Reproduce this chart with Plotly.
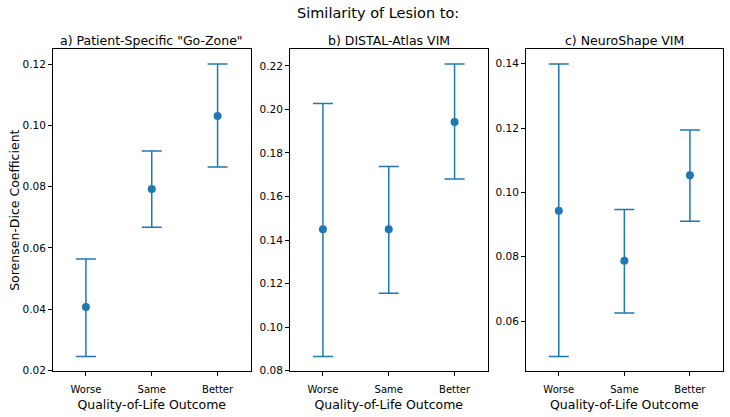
import plotly.graph_objects as go

categories = ["Worse", "Same", "Better"]
panel_titles = ['a) Patient-Specific "Go-Zone"', "b) DISTAL-Atlas VIM", "c) NeuroShape VIM"]

means_a = [0.0407, 0.0792, 0.1030]
lower_a = [0.0246, 0.0667, 0.0864]
upper_a = [0.0564, 0.0916, 0.1200]

means_b = [0.1449, 0.1449, 0.1942]
lower_b = [0.0865, 0.1155, 0.1680]
upper_b = [0.2028, 0.1738, 0.2209]

means_c = [0.0943, 0.0787, 0.1053]
lower_c = [0.0490, 0.0625, 0.0910]
upper_c = [0.1399, 0.0947, 0.1194]

C0 = "#1f77b4"
FONT = "DejaVu Sans"
W, H = 730, 417

panels = [
    (means_a, lower_a, upper_a),
    (means_b, lower_b, upper_b),
    (means_c, lower_c, upper_c),
]
x_domains = [[53 / W, 250.5 / W], [290 / W, 487.5 / W], [526 / W, 722.7 / W]]
y_domain = [1 - 375.5 / H, 1 - 50 / H]

fig = go.Figure()
layout = {}
for i, (m, lo, hi) in enumerate(panels):
    n = "" if i == 0 else str(i + 1)
    fig.add_trace(go.Scatter(
        x=categories, y=m,
        mode="markers",
        marker=dict(color=C0, size=8),
        error_y=dict(
            type="data", symmetric=False,
            array=[h - v for h, v in zip(hi, m)],
            arrayminus=[v - l for v, l in zip(m, lo)],
            color=C0, thickness=1.5, width=10,
        ),
        xaxis="x" + n, yaxis="y" + n,
        showlegend=False,
    ))
    span = max(hi) - min(lo)
    layout["xaxis" + n] = dict(
        domain=x_domains[i], anchor="y" + n,
        range=[-0.5, 2.5], type="category",
        showline=True, mirror=True, linecolor="black", linewidth=1,
        ticks="outside", ticklen=4, tickcolor="black", ticklabelstandoff=5,
        showgrid=False, zeroline=False,
        tickfont=dict(size=10, color="black", family=FONT),
        title=dict(text="Quality-of-Life Outcome", font=dict(size=12.5, color="black", family=FONT), standoff=6),
    )
    layout["yaxis" + n] = dict(
        domain=y_domain, anchor="x" + n,
        range=[min(lo) - 0.05 * span, max(hi) + 0.05 * span],
        dtick=0.02, tickformat=".2f",
        showline=True, mirror=True, linecolor="black", linewidth=1,
        ticks="outside", ticklen=4, tickcolor="black",
        showgrid=False, zeroline=False,
        tickfont=dict(size=10.5, color="black", family=FONT),
    )
    fig.add_annotation(
        text=panel_titles[i], xref="paper", yref="paper",
        x=sum(x_domains[i]) / 2, y=1 - 40.5 / H,
        xanchor="center", yanchor="middle", showarrow=False,
        font=dict(size=12.5, color="black", family=FONT),
    )

layout["yaxis"]["title"] = dict(text="Sorensen-Dice Coefficient", font=dict(size=12.5, color="black", family=FONT), standoff=0)

fig.add_annotation(
    text="Similarity of Lesion to:", xref="paper", yref="paper",
    x=378 / W, y=1 - 13.5 / H, xanchor="center", yanchor="middle", showarrow=False,
    font=dict(size=14.5, color="black", family=FONT),
)

fig.update_layout(
    **layout,
    width=W, height=H,
    margin=dict(l=0, r=0, t=0, b=0),
    plot_bgcolor="white", paper_bgcolor="white",
)

# drop the default page margin so the figure sits at the window's top-left
fig.write_html("out.html", config={"displayModeBar": False},
               post_script="document.body.style.margin = '0';")
